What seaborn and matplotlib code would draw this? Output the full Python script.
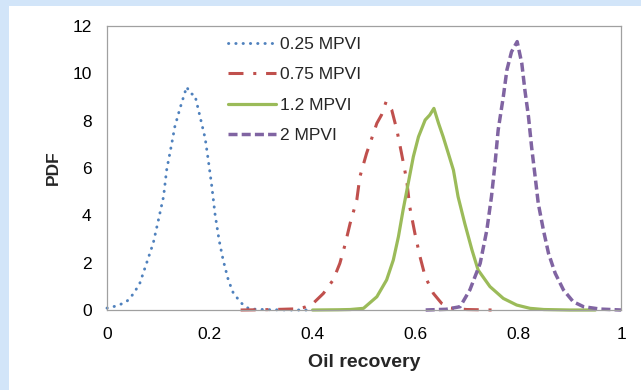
import matplotlib
matplotlib.use("Agg")
import matplotlib.pyplot as plt
import seaborn as sns
from matplotlib.patches import Rectangle

# ── Datos ──
x_025 = [0.000, 0.020, 0.038, 0.052, 0.064, 0.077, 0.090, 0.100, 0.110, 0.116,
         0.126, 0.132, 0.142, 0.148, 0.155, 0.162, 0.171, 0.181, 0.191, 0.197,
         0.204, 0.210, 0.218, 0.226, 0.236, 0.246, 0.262, 0.275, 0.290, 0.320,
         0.360, 0.400]
y_025 = [0.08, 0.18, 0.35, 0.70, 1.14, 1.98, 2.83, 3.80, 4.79, 5.91,
         7.04, 7.75, 8.52, 8.94, 9.43, 9.15, 9.08, 8.17, 7.25, 6.34,
         5.21, 4.08, 2.96, 2.11, 1.27, 0.70, 0.28, 0.07, 0.03, 0.01,
         0.00, 0.00]

x_075 = [0.260, 0.300, 0.340, 0.370, 0.385, 0.401, 0.421, 0.440, 0.453, 0.463,
         0.473, 0.486, 0.492, 0.505, 0.515, 0.525, 0.534, 0.543, 0.554, 0.564,
         0.573, 0.583, 0.589, 0.599, 0.609, 0.619, 0.635, 0.651, 0.668, 0.700,
         0.750]
y_075 = [0.00, 0.01, 0.03, 0.05, 0.12, 0.28, 0.70, 1.27, 1.97, 2.75,
         3.66, 4.65, 5.63, 6.62, 7.25, 7.89, 8.24, 8.80, 8.45, 7.60,
         6.62, 5.49, 4.36, 3.24, 2.25, 1.41, 0.70, 0.28, 0.08, 0.02,
         0.00]

x_12 = [0.400, 0.450, 0.473, 0.499, 0.525, 0.544, 0.557, 0.567, 0.576, 0.586,
        0.596, 0.606, 0.619, 0.628, 0.636, 0.645, 0.654, 0.664, 0.674, 0.683,
        0.696, 0.710, 0.722, 0.745, 0.771, 0.797, 0.823, 0.850, 0.900, 0.950]
y_12 = [0.00, 0.01, 0.02, 0.07, 0.56, 1.27, 2.11, 3.10, 4.22, 5.35,
        6.48, 7.32, 8.03, 8.24, 8.52, 7.89, 7.32, 6.62, 5.91, 4.79,
        3.66, 2.54, 1.69, 0.99, 0.49, 0.21, 0.07, 0.02, 0.00, 0.00]

x_2 = [0.620, 0.660, 0.687, 0.706, 0.726, 0.739, 0.748, 0.755, 0.761, 0.771,
       0.778, 0.787, 0.798, 0.807, 0.813, 0.820, 0.826, 0.833, 0.839, 0.849,
       0.859, 0.872, 0.888, 0.907, 0.927, 0.959, 1.000]
y_2 = [0.00, 0.03, 0.14, 0.85, 1.97, 3.38, 4.79, 6.20, 7.60, 9.01,
       10.14, 10.91, 11.34, 10.42, 9.29, 8.17, 6.90, 5.63, 4.51, 3.38,
       2.39, 1.55, 0.85, 0.35, 0.14, 0.04, 0.00]

etiquetas = ['0.25 MPVI', '0.75 MPVI', '1.2 MPVI', '2 MPVI']
colores = ['#4F81BD', '#C0504D', '#9BBB59', '#8064A2']

xticks = [0, 0.2, 0.4, 0.6, 0.8, 1.0]
xtick_labels = ['0', '0.2', '0.4', '0.6', '0.8', '1']
yticks = [0, 2, 4, 6, 8, 10, 12]

sns.set_style("white")
plt.rcParams['font.family'] = ['Liberation Sans', 'DejaVu Sans']
plt.rcParams['font.size'] = 12.5

fig = plt.figure(figsize=(6.41, 3.90), dpi=100, facecolor='#d2e5f9')
fig.patches.append(Rectangle((9 / 641, 0), 1, (390 - 6) / 390, transform=fig.transFigure,
                             facecolor='white', edgecolor='none', zorder=-10))
ax = fig.add_axes([107 / 641, 80 / 390, 514 / 641, 284 / 390])
ax.set_zorder(5)
ax.set_facecolor('white')

# ── Curvas ──
sns.lineplot(x=x_025, y=y_025, ax=ax, color=colores[0], lw=2.1, label=etiquetas[0],
             clip_on=False).lines[-1].set(linestyle=(0, (0.1, 2.4)),
                                          dash_capstyle='round')
sns.lineplot(x=x_075, y=y_075, ax=ax, color=colores[1], lw=2.2, label=etiquetas[1],
             clip_on=False).lines[-1].set(linestyle=(0, (4.9, 3.2, 1.0, 3.2)))
sns.lineplot(x=x_12, y=y_12, ax=ax, color=colores[2], lw=2.3, label=etiquetas[2],
             clip_on=False)
sns.lineplot(x=x_2, y=y_2, ax=ax, color=colores[3], lw=2.5, label=etiquetas[3],
             clip_on=False).lines[-1].set(linestyle=(0, (2.6, 1.2)))

ax.set_xlim(0, 1)
ax.set_ylim(0, 12)
ax.set_xticks(xticks)
ax.set_xticklabels(xtick_labels)
ax.set_yticks(yticks)
ax.tick_params(direction='in', length=3.5, width=0.8, color='#a0a0a0',
               labelsize=12.5, labelcolor='black')
ax.tick_params(axis='y', pad=11)
ax.tick_params(axis='x', pad=12)
for s in ax.spines.values():
    s.set_color('#a0a0a0')
    s.set_linewidth(0.9)

ax.set_xlabel('Oil recovery', fontsize=14, fontweight='bold', labelpad=9)
ax.set_ylabel('PDF', fontsize=12.5, fontweight='bold', labelpad=8)

ax.legend(loc='upper left', bbox_to_anchor=(0.235, 0.962), frameon=False,
          fontsize=12.5, handlelength=2.75, handletextpad=0.25, labelspacing=0.88,
          borderpad=0, borderaxespad=0)

fig.savefig('out.png', dpi=100, facecolor=fig.get_facecolor())
